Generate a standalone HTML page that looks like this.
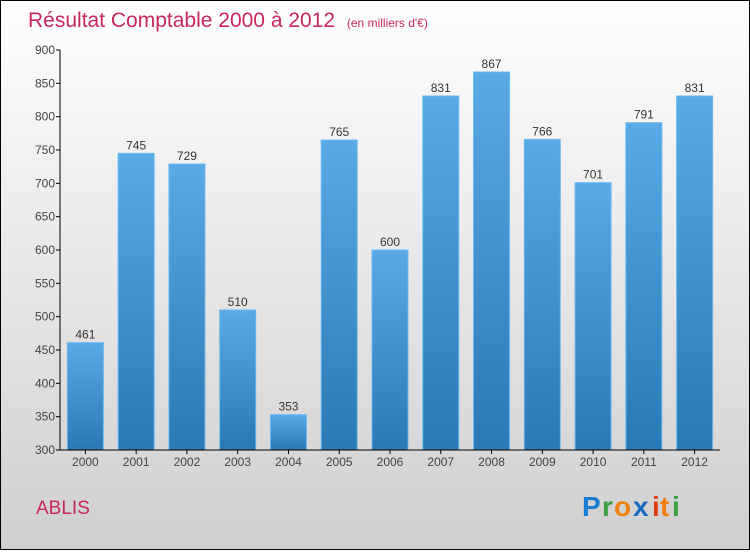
<!DOCTYPE html>
<html><head><meta charset="utf-8"><style>
body{margin:0;}
#wrap{width:750px;height:550px;position:relative;}
svg text{font-family:"Liberation Sans",sans-serif;}
</style></head><body>
<div id="wrap">
<svg id="chart" width="750" height="550">
<defs>
<linearGradient id="bg" x1="0" y1="0" x2="0" y2="1"><stop offset="0" stop-color="#ffffff"/><stop offset="1" stop-color="#cfcfcf"/></linearGradient>
<linearGradient id="bar" x1="0" y1="0" x2="0" y2="1"><stop offset="0" stop-color="#5aaae6"/><stop offset="1" stop-color="#2a78b4"/></linearGradient>
</defs>
<rect x="0.5" y="0.5" width="749" height="549" fill="url(#bg)" stroke="#000"/>
<text x="28" y="27" font-size="21" fill="#c8285a">Résultat Comptable 2000 à 2012 <tspan font-size="12" dx="6">(en milliers d'€)</tspan></text>
<text x="36" y="514" font-size="19" fill="#c8285a">ABLIS</text>
<g font-size="28" font-weight="bold" font-family="Liberation Sans,sans-serif">
<text x="582" y="516" fill="#1a7ad0">P</text><text x="602" y="516" fill="#3aa040">r</text><text x="614" y="516" fill="#f08010">o</text><text x="633" y="516" fill="#1a6ac0">x</text><text x="652" y="516" fill="#e04010">i</text><text x="660" y="516" fill="#f08010">t</text><text x="672" y="516" fill="#3aa040">i</text>
</g>
<g id="plot"></g>
</svg>
</div>
<script>
const categories=["2000","2001","2002","2003","2004","2005","2006","2007","2008","2009","2010","2011","2012"];
const values=[461,745,729,510,353,765,600,831,867,766,701,791,831];
const yTicks=[300,350,400,450,500,550,600,650,700,750,800,850,900];
const X0=60,X1=720,Y0=450,Y1=50,YMIN=300,YMAX=900;
const band=(X1-X0)/categories.length;
function xs(i){return X0+band*i+band/2;}
function ys(v){return Y0-(v-YMIN)/(YMAX-YMIN)*(Y0-Y1);}
const ns="http://www.w3.org/2000/svg";
const g=document.getElementById('plot');
function mk(t,a,p){const e=document.createElementNS(ns,t);for(const k in a)e.setAttribute(k,a[k]);(p||g).appendChild(e);return e;}
yTicks.forEach(v=>{
 const y=ys(v);
 const l=mk('line',{x1:X0-4,x2:X0,y1:y,y2:y,stroke:'#000'});
 
 
 const t=mk('text',{x:X0-5,y:y+4,'font-size':12,'text-anchor':'end',fill:'#444'});
 t.textContent=v;
 
 
});
categories.forEach((c,i)=>{
 const x=xs(i),v=values[i],y=ys(v);
 const r=mk('rect',{x:x-18,y:y,width:36,height:Y0-y,fill:'url(#bar)',stroke:'#6cb8ee','stroke-width':1});
 
 
 const vl=mk('text',{x:x,y:y-4,'font-size':12,'text-anchor':'middle',fill:'#333'});
 vl.textContent=v;
 
 
 const tk=mk('line',{x1:x,x2:x,y1:Y0,y2:Y0+4,stroke:'#000'});
 
 
 const xl=mk('text',{x:x,y:Y0+16,'font-size':12,'text-anchor':'middle',fill:'#444'});
 xl.textContent=c;
 
 
});
const ya=mk('line',{x1:X0,x2:X0,y1:Y1,y2:Y0,stroke:'#000'});


const xa=mk('line',{x1:X0,x2:X1,y1:Y0,y2:Y0,stroke:'#000'});


</script>
</body></html>
